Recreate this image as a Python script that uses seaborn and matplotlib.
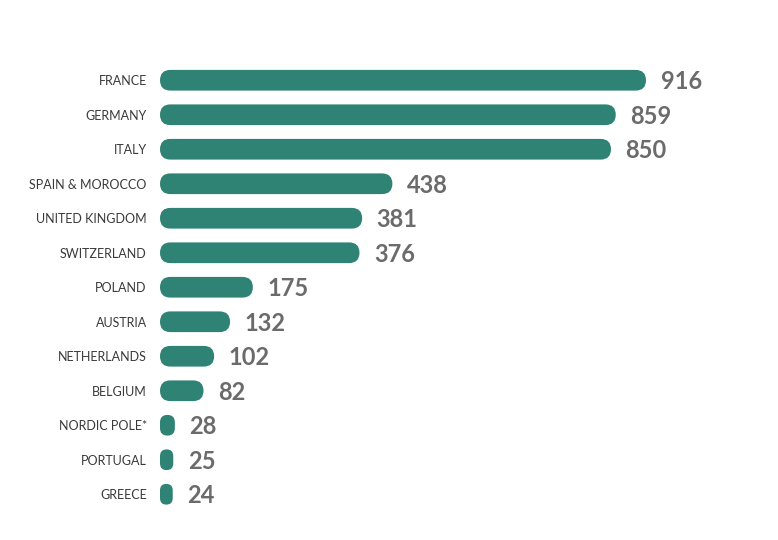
import matplotlib
matplotlib.use("Agg")
import matplotlib.pyplot as plt
from matplotlib.patches import FancyBboxPatch
from matplotlib.transforms import IdentityTransform
import seaborn as sns
import pandas as pd

countries = ["FRANCE", "GERMANY", "ITALY", "SPAIN & MOROCCO", "UNITED KINGDOM",
             "SWITZERLAND", "POLAND", "AUSTRIA", "NETHERLANDS", "BELGIUM",
             "NORDIC POLE*", "PORTUGAL", "GREECE"]
values = [916, 859, 850, 438, 381, 376, 175, 132, 102, 82, 28, 25, 24]

BAR_COLOR = "#2f8374"
LABEL_COLOR = "#3a3a3a"
VALUE_COLOR = "#6b6b6b"

sns.set_style("white")
plt.rcParams["font.family"] = ["Lato", "DejaVu Sans"]

W, H, DPI = 778, 540, 100
fig = plt.figure(figsize=(W / DPI, H / DPI), dpi=DPI)
fig.patch.set_facecolor("white")

left_px, right_px = 160, 760
top_px, bottom_px = 63.0, 511.5
ax = fig.add_axes([left_px / W, 1 - bottom_px / H,
                   (right_px - left_px) / W, (bottom_px - top_px) / H])

df = pd.DataFrame({"country": countries, "value": values})
sns.barplot(data=df, x="value", y="country", orient="h", color=BAR_COLOR,
            width=0.6, ax=ax, saturation=1)

ax.set_xlim(0, (right_px - left_px) * 916 / 486)
ax.set_ylim(len(countries) - 0.5, -0.5)
ax.set_xlabel("")
ax.set_ylabel("")
ax.set_xticks([])
for s in ax.spines.values():
    s.set_visible(False)
ax.tick_params(axis="y", length=0, pad=9.5, labelsize=9, labelcolor=LABEL_COLOR)

# replace rectangular bars with rounded pills drawn in display space
fig.canvas.draw()
patches = list(ax.patches)
for p in patches:
    bb = p.get_window_extent()
    w, h = bb.width, bb.height
    r = min(w, h) / 2
    fp = FancyBboxPatch((bb.x0, bb.y0), w, h,
                        boxstyle=f"round,pad=0,rounding_size={r}",
                        transform=IdentityTransform(), facecolor=BAR_COLOR,
                        edgecolor="none", clip_on=False)
    fig.add_artist(fp)
    p.set_visible(False)

for i, v in enumerate(values):
    ax.annotate(f"{v}", xy=(v, i), xytext=(10.5, -1), textcoords="offset points",
                va="center", ha="left", fontsize=17, fontweight="bold",
                color=VALUE_COLOR)

fig.savefig("out.png", dpi=DPI, facecolor="white")
